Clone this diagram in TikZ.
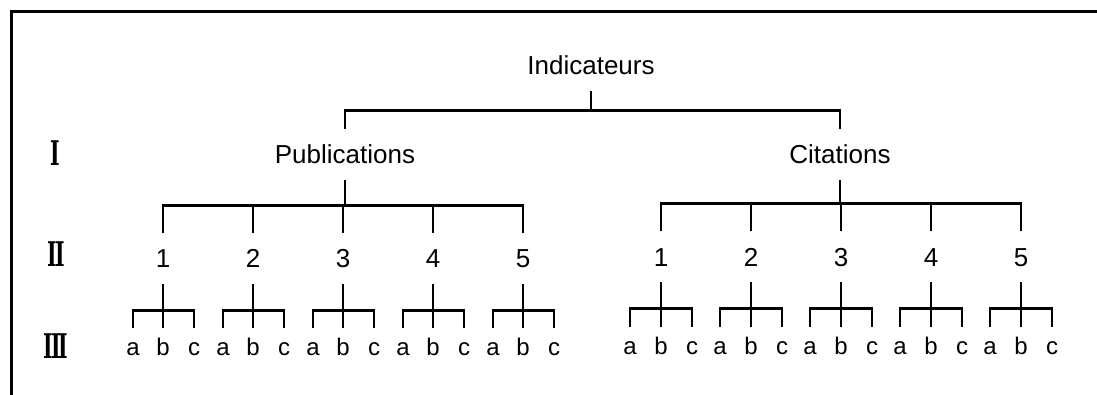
\documentclass[tikz,border=0pt]{standalone}
\usepackage{fontspec}
\setmainfont{Liberation Sans}
\newfontfamily\romfont{DejaVu Serif}
\usetikzlibrary{positioning}

\tikzset{
  lien/.style={line width=2.8pt},
  cadre/.style={line width=3pt},
  mot/.style={anchor=base, inner xsep=0pt, inner ysep=16pt, font=\fontsize{26}{30}\selectfont},
  chiffre/.style={anchor=base, inner xsep=0pt, inner ysep=16pt, text height=18.6pt, text depth=0pt, font=\fontsize{26}{30}\selectfont},
  lettre/.style={anchor=base, inner xsep=0pt, inner ysep=9pt, text height=18pt, text depth=0pt, font=\fontsize{24}{28}\selectfont},
  niveau/.style={anchor=base, inner sep=0pt, font=\romfont\bfseries\fontsize{34}{40}\selectfont},
}

\begin{document}
\begin{tikzpicture}[x=1pt, y=-1pt]
		\useasboundingbox (0,0) rectangle (1097,395);
		\draw[cadre] (11,395) -- (11,12) -- (1097,12);

		% niveaux
		\node[niveau] (rI) at (55,166) {\scalebox{0.6}[1]{I}};
		\node[niveau] (rII) at (56,267) {\scalebox{0.6}[1]{I\kern-3pt I}};
		\node[niveau] (rIII) at (56,358) {\scalebox{0.6}[1]{I\kern-3pt I\kern-3pt I}};

		% racine
		\node[mot] (ind) at (591,75) {Indicateurs};
		\node[mot] (pub) at (345,164) {Publications};
		\node[mot] (cit) at (840,164) {Citations};
		\draw[lien] (ind.south) -- ++(0,19) -| (pub.north);
		\draw[lien] (ind.south) -- ++(0,19) -| (cit.north);

		% publications
		\foreach \i in {1,...,5} {
			\pgfmathsetmacro{\xc}{163+90*(\i-1)}
			\node[chiffre] (p\i) at (\xc,268) {\i};
			\node[lettre] (pa\i) at (\xc-30,355) {a};
			\node[lettre] (pb\i) at (\xc,355) {b};
			\node[lettre] (pc\i) at (\xc+31,355) {c};
			\draw[lien] (pub.south) -- ++(0,25) -| (p\i.north);
			\draw[lien] (p\i.south) -- ++(0,26) -| (pa\i.north);
			\draw[lien] (p\i.south) -- ++(0,26) -| (pc\i.north);
			\draw[lien] (p\i.south) -- (pb\i.north);
		}

		% citations
		\foreach \i in {1,...,5} {
			\pgfmathsetmacro{\xc}{661+90*(\i-1)}
			\node[chiffre] (c\i) at (\xc,266) {\i};
			\node[lettre] (ca\i) at (\xc-31,354) {a};
			\node[lettre] (cb\i) at (\xc,354) {b};
			\node[lettre] (cc\i) at (\xc+31,354) {c};
			\draw[lien] (cit.south) -- ++(0,23) -| (c\i.north);
			\draw[lien] (c\i.south) -- ++(0,26) -| (ca\i.north);
			\draw[lien] (c\i.south) -- ++(0,26) -| (cc\i.north);
			\draw[lien] (c\i.south) -- (cb\i.north);
		}
	\end{tikzpicture}
\end{document}
